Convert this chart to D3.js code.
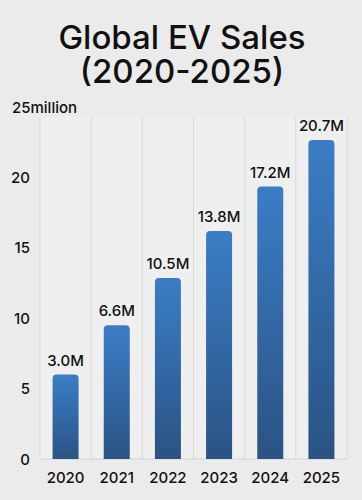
<!DOCTYPE html>
<html><head><meta charset="utf-8">
<script src="https://cdn.jsdelivr.net/npm/d3@7"></script>
<style>
html,body{margin:0;padding:0;background:#ebebeb;}
svg{display:block;font-family:Inter,"Liberation Sans",Arial,sans-serif;font-weight:500;}
</style></head>
<body>
<svg id="chart" width="362" height="500"></svg>
<script>
const years = ["2020","2021","2022","2023","2024","2025"];
const barHeights = [6.0, 9.5, 12.85, 16.2, 19.35, 22.65];
const valueLabels = ["3.0M","6.6M","10.5M","13.8M","17.2M","20.7M"];
const yTicks = [0,5,10,15,20,25];
const titleLines = ["Global EV Sales","(2020-2025)"];

const svg = d3.select("#chart");
const W = 362, H = 500;
const m = {left:40, right:15, top:107, bottom:41};

const x = d3.scaleBand().domain(years).range([m.left, W - m.right]).paddingInner(0).paddingOuter(0);
const y = d3.scaleLinear().domain([0,25]).range([H - m.bottom, m.top]);

const defs = svg.append("defs");
const grad = defs.append("linearGradient").attr("id","barGrad").attr("x1",0).attr("y1",0).attr("x2",0).attr("y2",1);
grad.append("stop").attr("offset","0%").attr("stop-color","#3b7dc6");
grad.append("stop").attr("offset","100%").attr("stop-color","#2a5384");

// plot background
svg.append("rect").attr("x",m.left).attr("y",117).attr("width",x.range()[1]-m.left).attr("height",y(0)-117).attr("fill","#efefef");

// vertical gridlines at band edges
const edges = years.map(d => x(d)).concat([x.range()[1]]);
svg.append("g").selectAll("line").data(edges).join("line")
  .attr("x1",d=>d).attr("x2",d=>d).attr("y1",117).attr("y2",y(0))
  .attr("stroke","#d9d9d9").attr("stroke-width",1);

// baseline
svg.append("line").attr("x1",m.left).attr("x2",x.range()[1]).attr("y1",y(0)).attr("y2",y(0)).attr("stroke","#d4d4d4");

// bars
const bw = 26;
const r = 4;
svg.append("g").selectAll("path").data(years).join("path")
  .attr("d",(d,i)=>{
    const cx = x(d) + x.bandwidth()/2;
    const x0 = cx - bw/2, x1 = cx + bw/2;
    const yt = y(barHeights[i]), yb = y(0);
    return `M${x0},${yb}V${yt+r}Q${x0},${yt} ${x0+r},${yt}H${x1-r}Q${x1},${yt} ${x1},${yt+r}V${yb}Z`;
  })
  .attr("fill","url(#barGrad)");

// value labels
svg.append("g").selectAll("text").data(years).join("text")
  .attr("x",d=>x(d)+x.bandwidth()/2)
  .attr("y",(d,i)=>y(barHeights[i]) - 9)
  .attr("text-anchor","middle")
  .attr("font-size",15).attr("fill","#111")
  .text((d,i)=>valueLabels[i]);

// y axis labels
const yl = svg.append("g").selectAll("text").data(yTicks).join("text")
  .attr("y",d=>y(d)+5.5)
  .attr("font-size",15).attr("fill","#111");
yl.each(function(d){
  const t = d3.select(this);
  if (d === 25) {
    t.attr("x",12).attr("text-anchor","start");
    t.append("tspan").text(d);
    t.append("tspan").text("million");
  } else {
    t.attr("x",30).attr("text-anchor","end").text(d);
  }
});

// x axis labels
svg.append("g").selectAll("text").data(years).join("text")
  .attr("x",d=>x(d)+x.bandwidth()/2)
  .attr("y",H - 17)
  .attr("text-anchor","middle")
  .attr("font-size",15).attr("fill","#111")
  .text(d=>d);

// title (single text element, two lines)
const title = svg.append("text")
  .attr("text-anchor","middle")
  .attr("font-size",33).attr("fill","#111");
title.selectAll("tspan").data(titleLines).join("tspan")
  .attr("x",W/2 + 1).attr("y",(d,i)=>49 + i*34)
  .text(d=>d);
</script>
</body></html>
